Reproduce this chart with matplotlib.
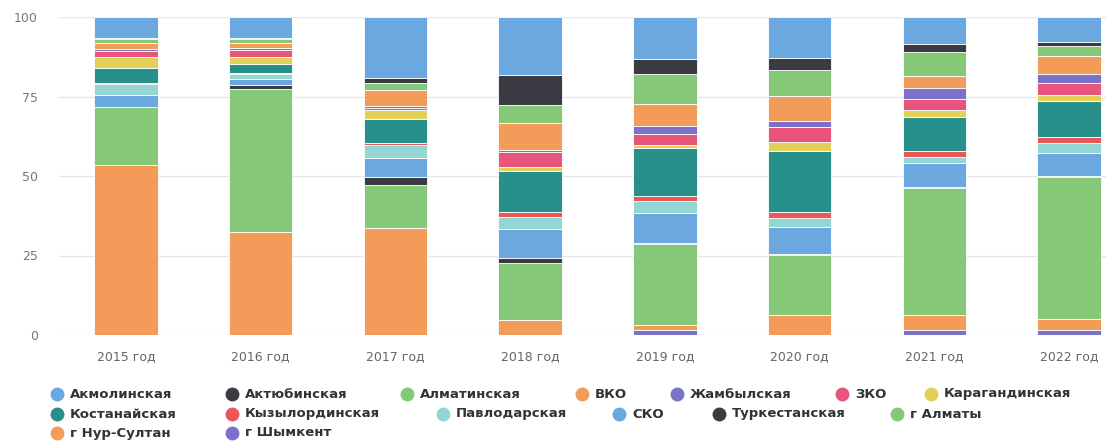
import numpy as np
import matplotlib
matplotlib.use("Agg")
import matplotlib.pyplot as plt

plt.rcParams['font.family'] = ['DejaVu Sans']

years = ['2015 год', '2016 год', '2017 год', '2018 год',
         '2019 год', '2020 год', '2021 год', '2022 год']

# shares by region (stacked to 100 %)
akmola = [6.6, 6.6, 19.2, 18.2, 12.9, 12.9, 8.5, 7.7]
aktobe = [0.2, 0.4, 1.4, 9.2, 4.7, 3.9, 2.3, 1.5]
almaty_reg = [1.3, 1.2, 2.3, 5.8, 9.3, 7.9, 7.6, 3.2]
vko = [2.0, 1.6, 5.0, 8.4, 7.0, 7.9, 3.7, 5.4]
zhambyl = [0.5, 0.5, 0.4, 0.7, 2.3, 2.0, 3.4, 3.0]
zko = [2.1, 2.2, 0.6, 4.5, 3.5, 4.8, 3.2, 3.7]
karaganda = [3.5, 2.3, 2.9, 1.4, 1.0, 2.6, 2.1, 2.0]
kostanay = [4.6, 2.8, 7.4, 12.8, 14.7, 19.4, 10.8, 11.1]
kyzylorda = [0.3, 0.2, 0.8, 1.6, 1.5, 1.6, 1.6, 1.9]
pavlodar = [3.4, 1.6, 4.0, 3.6, 3.7, 3.1, 2.1, 3.1]
sko = [3.8, 1.7, 6.0, 9.0, 9.4, 8.4, 7.4, 7.4]
turkestan = [0.0, 1.4, 2.4, 1.5, 0.3, 0.2, 0.3, 0.2]
almaty_city = [18.3, 44.6, 13.6, 17.9, 25.2, 18.9, 39.3, 44.6]
nursultan = [53.8, 32.0, 33.3, 4.7, 1.5, 6.3, 4.7, 3.6]
shymkent = [0.0, 0.0, 0.0, 0.0, 1.5, 0.0, 1.4, 1.5]

names = ['Акмолинская', 'Актюбинская', 'Алматинская', 'ВКО', 'Жамбылская',
         'ЗКО', 'Карагандинская', 'Костанайская', 'Кызылординская',
         'Павлодарская', 'СКО', 'Туркестанская', 'г Алматы',
         'г Нур-Султан', 'г Шымкент']
series = [akmola, aktobe, almaty_reg, vko, zhambyl, zko, karaganda, kostanay,
          kyzylorda, pavlodar, sko, turkestan, almaty_city, nursultan, shymkent]

palette = ['#6ba8df', '#3a3a42', '#84c878', '#f39c59', '#7a72c8',
           '#e8557c', '#e3d05a', '#27908a', '#e95757', '#95d6d4']
colors = [palette[i % len(palette)] for i in range(len(series))]

data = np.array(series, dtype=float)
data = data / data.sum(axis=0) * 100  # percent stacking

W, H = 1106, 442
fig = plt.figure(figsize=(W / 100, H / 100), dpi=100)
left_px, top_px, bottom_px = 58.7, 17, 335
ax = fig.add_axes([left_px / W, (H - bottom_px) / H,
                   (W - left_px) / W, (bottom_px - top_px) / H])

x = np.arange(len(years))
step_px = 134.7
bottom = np.zeros(len(years))
# last series sits at the bottom of the stack
for i in range(len(series) - 1, -1, -1):
    ax.bar(x, data[i], 0.47, bottom=bottom, color=colors[i],
           edgecolor='white', linewidth=0.6, zorder=2)
    bottom += data[i]

ax.set_xlim(-0.5, 7.5 - (left_px + 8 * step_px - W) / step_px)
ax.set_ylim(0, 100)
ax.set_yticks([0, 25, 50, 75, 100])
ax.set_xticks(x)
ax.set_xticklabels(years)
ax.tick_params(axis='x', length=0, pad=11, labelsize=9, labelcolor='#666666')
ax.tick_params(axis='y', length=0, pad=15, labelsize=9, labelcolor='#777777')
ax.yaxis.grid(True, color='#e6e6e6', linewidth=1, zorder=0)
ax.set_axisbelow(True)
for s in ax.spines.values():
    s.set_visible(False)

# legend drawn item by item, rows as in the original
legend_rows = [[0, 1, 2, 3, 4, 5, 6], [7, 8, 9, 10, 11, 12], [13, 14]]
legend_x = [[57, 232, 407, 582, 677, 842, 931],
            [57, 232, 443, 619, 719, 897],
            [57, 232]]
legend_y = [394, 414, 433]
for row, xs, yy in zip(legend_rows, legend_x, legend_y):
    for idx, xx in zip(row, xs):
        fy = 1 - yy / H
        fig.lines.append(plt.Line2D([xx / W], [fy], marker='o', markersize=9,
                                    color=colors[idx], linestyle='none',
                                    transform=fig.transFigure))
        fig.text((xx + 13) / W, fy, names[idx], fontsize=9.5, fontweight='bold',
                 color='#333333', va='center', ha='left')

fig.savefig('out.png', dpi=100, facecolor='white')
